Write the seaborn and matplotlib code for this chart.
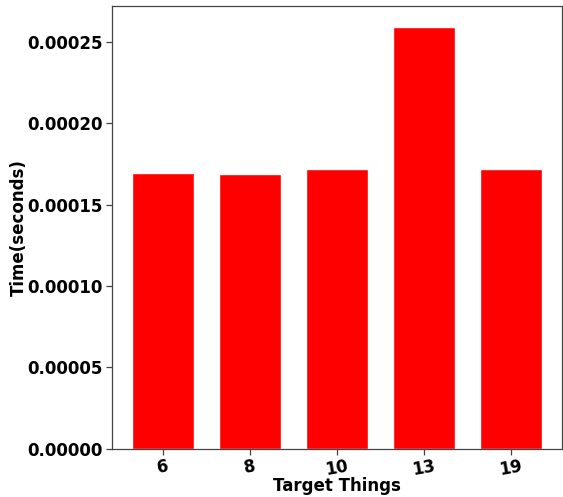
import matplotlib
matplotlib.use('Agg')
import matplotlib.pyplot as plt
import seaborn as sns
import pandas as pd

# values
targets = ['6', '8', '10', '13', '19']
times = [0.0001695, 0.0001688, 0.0001720, 0.0002590, 0.0001720]

df = pd.DataFrame({'Target Things': targets, 'Time(seconds)': times})

sns.set_style('ticks')
plt.rcParams['font.family'] = ['DejaVu Sans']
plt.rcParams['text.color'] = 'black'
plt.rcParams['axes.labelcolor'] = 'black'
plt.rcParams['xtick.color'] = '#444444'
plt.rcParams['ytick.color'] = '#444444'
plt.rcParams['xtick.labelcolor'] = 'black'
plt.rcParams['ytick.labelcolor'] = 'black'

fig = plt.figure(figsize=(5.63, 4.97), dpi=100)
ax = fig.add_axes([0.199, 0.097, 0.799, 0.891])

sns.barplot(data=df, x='Target Things', y='Time(seconds)', color='red',
            saturation=1, width=0.71, ax=ax)

ax.set_xlim(-0.585, 4.585)
ax.set_ylim(0, 0.000272)
ax.set_yticks([0, 0.00005, 0.0001, 0.00015, 0.0002, 0.00025])
ax.set_yticklabels(['0.00000', '0.00005', '0.00010', '0.00015', '0.00020', '0.00025'])
ax.set_xlabel('Target Things', fontsize=12, fontweight='bold')
ax.set_ylabel('Time(seconds)', fontsize=12, fontweight='bold')
ax.xaxis.set_label_coords(0.5, -0.064)
ax.yaxis.set_label_coords(-0.187, 0.5)
ax.tick_params(length=4, width=0.9, pad=3)
ax.tick_params(axis='x', pad=2)
for lab in ax.get_xticklabels():
    lab.set_rotation(10)
    lab.set_fontsize(12)
    lab.set_fontweight('bold')
for lab in ax.get_yticklabels():
    lab.set_fontsize(12)
    lab.set_fontweight('bold')

for s in ax.spines.values():
    s.set_color('#444444')
    s.set_linewidth(0.9)

fig.savefig('out.png', dpi=100)
